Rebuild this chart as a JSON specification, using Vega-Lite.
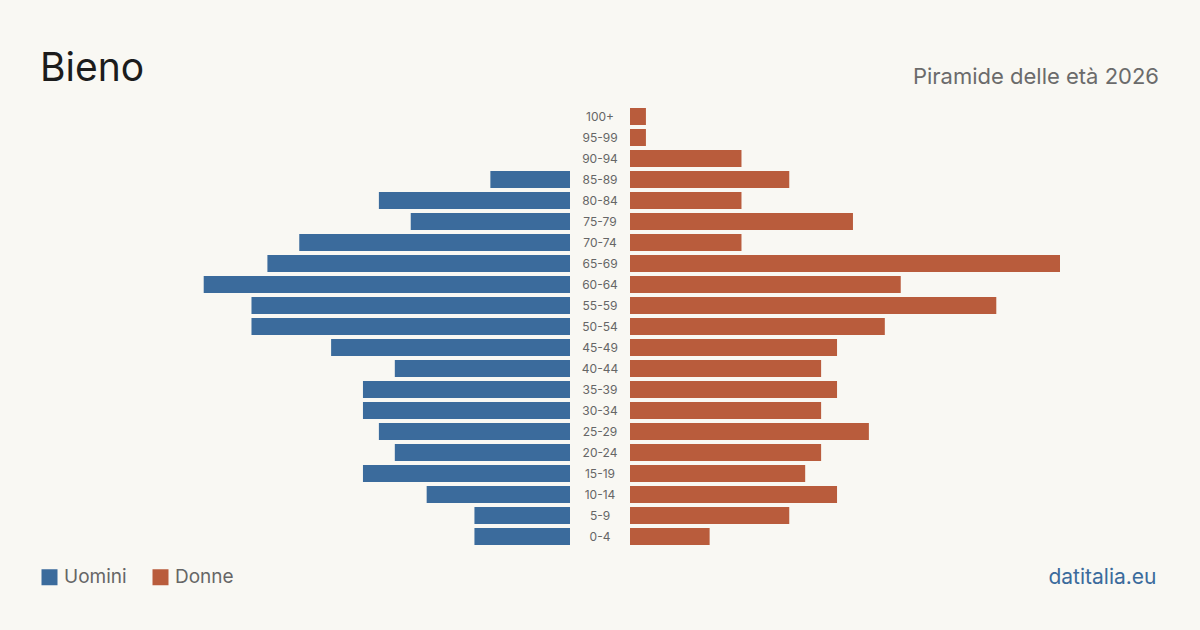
{
  "$schema": "https://vega.github.io/schema/vega-lite/v6.json",
  "background": "#f9f8f3",
  "padding": {"left": 40, "right": 41, "top": 49, "bottom": 56},
  "bounds": "flush",
  "spacing": 0,
  "config": {
    "view": {"stroke": null},
    "font": "Inter",
    "title": {"font": "Inter", "fontWeight": "normal", "frame": "group", "baseline": "alphabetic"},
    "axis": {"labelFont": "Inter", "titleFont": "Inter"},
    "legend": {"labelFont": "Inter"}
  },
  "data": {
    "values": [
      {"eta": "100+", "sesso": "Uomini", "persone": 0},
      {"eta": "100+", "sesso": "Donne", "persone": 1},
      {"eta": "95-99", "sesso": "Uomini", "persone": 0},
      {"eta": "95-99", "sesso": "Donne", "persone": 1},
      {"eta": "90-94", "sesso": "Uomini", "persone": 0},
      {"eta": "90-94", "sesso": "Donne", "persone": 7},
      {"eta": "85-89", "sesso": "Uomini", "persone": 5},
      {"eta": "85-89", "sesso": "Donne", "persone": 10},
      {"eta": "80-84", "sesso": "Uomini", "persone": 12},
      {"eta": "80-84", "sesso": "Donne", "persone": 7},
      {"eta": "75-79", "sesso": "Uomini", "persone": 10},
      {"eta": "75-79", "sesso": "Donne", "persone": 14},
      {"eta": "70-74", "sesso": "Uomini", "persone": 17},
      {"eta": "70-74", "sesso": "Donne", "persone": 7},
      {"eta": "65-69", "sesso": "Uomini", "persone": 19},
      {"eta": "65-69", "sesso": "Donne", "persone": 27},
      {"eta": "60-64", "sesso": "Uomini", "persone": 23},
      {"eta": "60-64", "sesso": "Donne", "persone": 17},
      {"eta": "55-59", "sesso": "Uomini", "persone": 20},
      {"eta": "55-59", "sesso": "Donne", "persone": 23},
      {"eta": "50-54", "sesso": "Uomini", "persone": 20},
      {"eta": "50-54", "sesso": "Donne", "persone": 16},
      {"eta": "45-49", "sesso": "Uomini", "persone": 15},
      {"eta": "45-49", "sesso": "Donne", "persone": 13},
      {"eta": "40-44", "sesso": "Uomini", "persone": 11},
      {"eta": "40-44", "sesso": "Donne", "persone": 12},
      {"eta": "35-39", "sesso": "Uomini", "persone": 13},
      {"eta": "35-39", "sesso": "Donne", "persone": 13},
      {"eta": "30-34", "sesso": "Uomini", "persone": 13},
      {"eta": "30-34", "sesso": "Donne", "persone": 12},
      {"eta": "25-29", "sesso": "Uomini", "persone": 12},
      {"eta": "25-29", "sesso": "Donne", "persone": 15},
      {"eta": "20-24", "sesso": "Uomini", "persone": 11},
      {"eta": "20-24", "sesso": "Donne", "persone": 12},
      {"eta": "15-19", "sesso": "Uomini", "persone": 13},
      {"eta": "15-19", "sesso": "Donne", "persone": 11},
      {"eta": "10-14", "sesso": "Uomini", "persone": 9},
      {"eta": "10-14", "sesso": "Donne", "persone": 13},
      {"eta": "5-9", "sesso": "Uomini", "persone": 6},
      {"eta": "5-9", "sesso": "Donne", "persone": 10},
      {"eta": "0-4", "sesso": "Uomini", "persone": 6},
      {"eta": "0-4", "sesso": "Donne", "persone": 5}
    ]
  },
  "resolve": {"scale": {"color": "shared"}, "legend": {"color": "shared"}},
  "hconcat": [
    {
      "width": 430,
      "height": 441,
      "title": {"text": "Bieno", "anchor": "start", "dx": -100, "offset": 17.5, "fontSize": 39, "color": "#1c1c1c"},
      "transform": [{"filter": {"field": "sesso", "equal": "Uomini"}}],
      "mark": {"type": "bar"},
      "encoding": {
        "y": {
          "field": "eta", "type": "nominal",
          "sort": ["100+", "95-99", "90-94", "85-89", "80-84", "75-79", "70-74", "65-69", "60-64", "55-59", "50-54", "45-49", "40-44", "35-39", "30-34", "25-29", "20-24", "15-19", "10-14", "5-9", "0-4"],
          "scale": {"paddingInner": 0.19, "paddingOuter": 0.095},
          "axis": null
        },
        "x": {
          "field": "persone", "type": "quantitative",
          "scale": {"domain": [0, 27], "reverse": true, "nice": false},
          "axis": null
        },
        "color": {
          "field": "sesso", "type": "nominal",
          "scale": {"domain": ["Uomini", "Donne"], "range": ["#3b6b9c", "#b95c3c"]},
          "legend": {
            "title": null, "orient": "none", "legendX": -100, "legendY": 461.5,
            "direction": "horizontal", "symbolType": "square", "symbolSize": 256,
            "symbolStrokeWidth": 0, "symbolOpacity": 1, "labelFontSize": 19, "labelColor": "#666666",
            "labelOffset": 5, "columnPadding": 24
          }
        }
      }
    },
    {
      "width": 60,
      "height": 441,
      "transform": [{"filter": {"field": "sesso", "equal": "Donne"}}],
      "mark": {"type": "text", "fontSize": 12, "color": "#666666", "align": "center", "baseline": "middle"},
      "encoding": {
        "y": {
          "field": "eta", "type": "nominal",
          "sort": ["100+", "95-99", "90-94", "85-89", "80-84", "75-79", "70-74", "65-69", "60-64", "55-59", "50-54", "45-49", "40-44", "35-39", "30-34", "25-29", "20-24", "15-19", "10-14", "5-9", "0-4"],
          "scale": {"paddingInner": 0.19, "paddingOuter": 0.095},
          "axis": null
        },
        "text": {"field": "eta", "type": "nominal"}
      }
    },
    {
      "width": 430,
      "height": 441,
      "title": {"text": "Piramide delle età 2026", "anchor": "end", "dx": 99, "offset": 17, "fontSize": 22, "color": "#6b6b6b"},
      "transform": [{"filter": {"field": "sesso", "equal": "Donne"}}],
      "mark": {"type": "bar"},
      "encoding": {
        "y": {
          "field": "eta", "type": "nominal",
          "sort": ["100+", "95-99", "90-94", "85-89", "80-84", "75-79", "70-74", "65-69", "60-64", "55-59", "50-54", "45-49", "40-44", "35-39", "30-34", "25-29", "20-24", "15-19", "10-14", "5-9", "0-4"],
          "scale": {"paddingInner": 0.19, "paddingOuter": 0.095},
          "axis": null
        },
        "x": {
          "field": "persone", "type": "quantitative",
          "scale": {"domain": [0, 27], "nice": false},
          "axis": {
            "orient": "bottom", "labels": false, "ticks": false, "domain": false, "grid": false,
            "title": "datitalia.eu", "titleX": 526, "titleY": 36.5, "titleAlign": "right",
            "titleBaseline": "alphabetic", "titleAnchor": null, "titleFontSize": 21,
            "titleFontWeight": "normal", "titleColor": "#3b6b9c"
          }
        },
        "color": {
          "field": "sesso", "type": "nominal",
          "scale": {"domain": ["Uomini", "Donne"], "range": ["#3b6b9c", "#b95c3c"]}
        }
      }
    }
  ]
}
